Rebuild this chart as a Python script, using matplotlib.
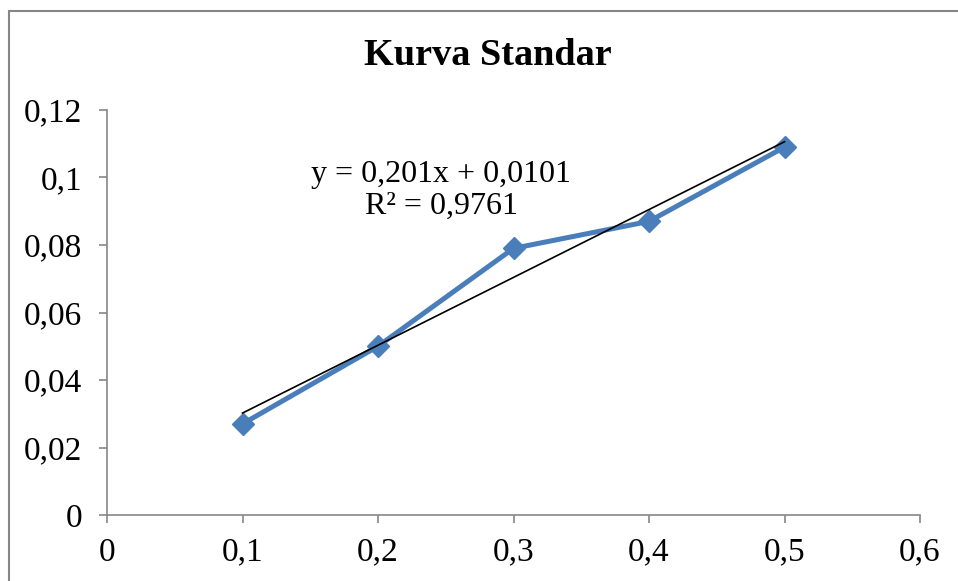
import matplotlib
matplotlib.use("Agg")
import matplotlib.pyplot as plt
import numpy as np
from matplotlib.patches import Rectangle

x_vals = [0.1, 0.2, 0.3, 0.4, 0.5]
y_vals = [0.027, 0.050, 0.079, 0.087, 0.109]
slope = 0.201
intercept = 0.0101
eq_text = "y = 0,201x + 0,0101\nR² = 0,9761"
title = "Kurva Standar"
x_ticks = [0, 0.1, 0.2, 0.3, 0.4, 0.5, 0.6]
x_labels = ["0", "0,1", "0,2", "0,3", "0,4", "0,5", "0,6"]
y_ticks = [0, 0.02, 0.04, 0.06, 0.08, 0.10, 0.12]
y_labels = ["0", "0,02", "0,04", "0,06", "0,08", "0,1", "0,12"]

plt.rcParams['font.family'] = ['Liberation Serif', 'DejaVu Serif']

fig = plt.figure(figsize=(9.58, 5.81), dpi=100)
fig.patches.append(Rectangle((9/958, -0.1), 1.2, 1 - 11/581 + 0.1, transform=fig.transFigure,
                             fill=False, edgecolor='#868686', linewidth=1.5))
ax = fig.add_axes([107/958, 1 - 515/581, 813/958, 405/581])

ax.plot(x_vals, y_vals, color='#4a7ebb', linewidth=3.6, marker='D', markersize=11.5,
        markeredgecolor='#4a7ebb', zorder=3)
tx = np.array([x_vals[0], x_vals[-1]])
ax.plot(tx, slope * tx + intercept, color='black', linewidth=1.2, zorder=4)

ax.set_xlim(0, 0.6)
ax.set_ylim(0, 0.12)
ax.set_xticks(x_ticks)
ax.set_xticklabels(x_labels)
ax.set_yticks(y_ticks)
ax.set_yticklabels(y_labels)
for s in ['top', 'right']:
    ax.spines[s].set_visible(False)
for s in ['left', 'bottom']:
    ax.spines[s].set_color('#868686')
    ax.spines[s].set_linewidth(1.2)
ax.tick_params(direction='out', length=6, width=1.2, color='#868686', labelsize=24,
               labelcolor='black')
ax.tick_params(axis='y', pad=12)
ax.tick_params(axis='x', pad=10)

ax.text(0.2465, 0.0962, eq_text, fontsize=23, ha='center', va='center', multialignment='center',
        linespacing=1.15)
fig.text(0.509, 0.905, title, fontsize=27.5, fontweight='bold', ha='center', va='center')

fig.savefig("out.png", dpi=100)
